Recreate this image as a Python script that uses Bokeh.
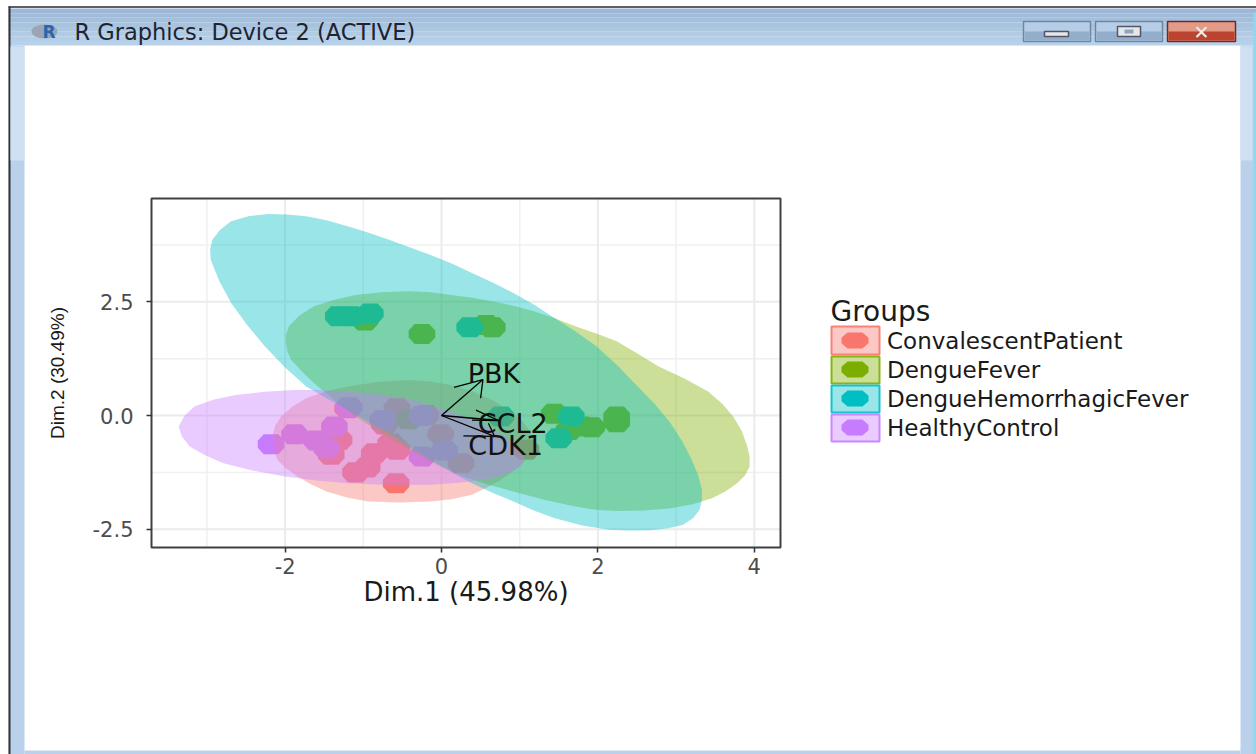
from bokeh.plotting import figure
from bokeh.models import Range1d, FixedTicker, Legend, LegendItem
from bokeh.core.properties import value
from bokeh.embed import file_html
from bokeh.resources import INLINE

groups = ["ConvalescentPatient", "DengueFever", "DengueHemorrhagicFever", "HealthyControl"]
colors = ["#F8766D", "#7CAE00", "#00BFC4", "#C77CFF"]

conv_x = [-1.31,-1.41,-0.86,-0.57,-1.10,-0.95,-0.58,-0.65,0.25,1.08,-0.01,-0.57,-0.20,-0.73,-1.20]
conv_y = [-0.54,-0.86,-0.83,-0.75,-1.25,-1.14,-1.49,-0.61,-1.05,-0.75,-0.41,0.16,0.01,-0.20,0.16]
df_x = [-0.98,-0.25,0.57,0.65,1.44,1.63,1.79,1.92,2.24,2.24,-0.42]
df_y = [2.09,1.79,1.99,1.94,0.04,-0.32,-0.24,-0.26,-0.02,-0.15,-0.08]
dhf_x = [-1.32,-1.15,-0.91,0.36,0.76,1.66,1.50]
dhf_y = [2.18,2.18,2.24,1.94,-0.02,-0.02,-0.50]
hc_x = [-2.18,-1.88,-1.60,-1.47,-1.37,-1.18,-0.75,-0.25,0.04,-0.25]
hc_y = [-0.63,-0.41,-0.55,-0.72,-0.24,0.18,-0.10,-0.01,-0.77,-0.90]

conv_ex = [-.41,-.14,.12,.40,.65,.85,1.02,1.12,1.18,1.16,1.08,.94,.76,.58,.39,.13,-.14,-.54,-.94,-1.21,-1.47,-1.67,-1.84,-1.99,-2.10,-2.15,-2.16,-2.13,-2.05,-1.91,-1.73,-1.48,-1.20,-.80]
conv_ey = [.78,.75,.67,.53,.34,.13,-.10,-.32,-.54,-.76,-.97,-1.20,-1.41,-1.58,-1.74,-1.84,-1.89,-1.91,-1.89,-1.80,-1.67,-1.51,-1.34,-1.16,-.97,-.72,-.46,-.23,-.02,.19,.38,.53,.64,.74]
df_ex = [-.41,-.14,.12,.39,.65,.92,1.18,1.45,1.71,1.98,2.24,2.50,2.77,3.10,3.41,3.59,3.73,3.84,3.91,3.94,3.94,3.88,3.78,3.63,3.46,3.21,2.93,2.59,2.24,1.97,1.71,1.31,.92,.60,.28,-.07,-.41,-.76,-1.10,-1.38,-1.63,-1.79,-1.92,-1.97,-1.99,-1.99,-1.95,-1.82,-1.63,-1.38,-1.10,-.76]
df_ey = [2.73,2.71,2.65,2.59,2.51,2.41,2.29,2.14,1.96,1.80,1.63,1.37,1.08,.82,.53,.26,-.02,-.34,-.68,-.90,-1.12,-1.32,-1.49,-1.67,-1.82,-1.95,-2.04,-2.09,-2.10,-2.07,-2.00,-1.85,-1.67,-1.52,-1.34,-1.07,-.75,-.40,-.02,.35,.71,.98,1.22,1.40,1.59,1.78,1.96,2.19,2.40,2.54,2.65,2.71]
dhf_ex = [-2.21,-1.97,-1.73,-1.47,-1.20,-.94,-.67,-.41,-.14,.13,.39,.66,.92,1.19,1.45,1.72,1.98,2.25,2.51,2.73,2.93,3.08,3.20,3.28,3.33,3.33,3.30,3.22,3.09,2.90,2.67,2.40,2.14,1.80,1.45,1.18,.92,.65,.39,.12,-.14,-.41,-.67,-.94,-1.20,-1.47,-1.73,-2.01,-2.26,-2.49,-2.69,-2.84,-2.95,-2.96,-2.93,-2.83,-2.69,-2.47]
dhf_ey = [4.43,4.42,4.38,4.29,4.16,4.02,3.86,3.70,3.53,3.34,3.13,2.92,2.69,2.43,2.14,1.84,1.52,1.10,.64,.25,-.17,-.57,-.97,-1.30,-1.63,-1.86,-2.07,-2.25,-2.40,-2.48,-2.52,-2.53,-2.51,-2.42,-2.26,-2.09,-1.89,-1.70,-1.49,-1.24,-.97,-.69,-.39,-.14,.12,.38,.64,1.07,1.52,2.00,2.47,2.95,3.42,3.65,3.86,4.08,4.27,4.38]
hc_ex = [-1.89,-1.55,-1.20,-.83,-.46,-.09,.28,.56,.81,.95,1.05,1.06,1.02,.86,.65,.26,-.14,-.67,-1.20,-1.60,-2.00,-2.42,-2.79,-3.03,-3.22,-3.32,-3.36,-3.29,-3.16,-2.91,-2.63,-2.26]
hc_ey = [.56,.56,.53,.47,.38,.20,-.02,-.23,-.46,-.64,-.83,-.98,-1.12,-1.27,-1.38,-1.47,-1.52,-1.53,-1.49,-1.43,-1.34,-1.21,-1.05,-.87,-.68,-.46,-.24,-.01,.20,.35,.45,.52]

var_names = ["PBK", "CCL2", "CDK1"]
var_x = [0.53, 0.73, 0.68]
var_y = [0.79, -0.11, -0.46]
head1_x = [0.16, 0.44, 0.28]
head1_y = [0.62, 0.12, -0.45]
head2_x = [0.50, 0.39, 0.60]
head2_y = [0.38, -0.10, -0.17]
label_x = [0.67, 0.91, 0.82]
label_y = [0.92, -0.17, -0.65]

x_major = [-2, 0, 2, 4]
x_minor = [-3, -1, 1, 3]
y_major = [-2.5, 0, 2.5]
y_minor = [-1.25, 1.25, 3.75]

W, H = 1256, 754
X0, XU, Y0, YU = 441.0, 78.2, 415.0, 45.5
L, T, R, B = 151, 198, 780, 547
xmin, xmax = (L-X0)/XU, (R-X0)/XU
ymin, ymax = (Y0-B)/YU, (Y0-T)/YU

p = figure(width=W, height=H, output_backend="svg", toolbar_location=None,
           x_range=Range1d(-X0/XU, (W-X0)/XU), y_range=Range1d((Y0-H)/YU, Y0/YU),
           min_border=0)
p.extra_x_ranges = {"page": Range1d(0, W)}
p.extra_y_ranges = {"page": Range1d(H, 0)}
PG = dict(x_range_name="page", y_range_name="page")
p.background_fill_color = "white"
p.border_fill_color = "white"
p.outline_line_color = None
p.xgrid.visible = False
p.ygrid.visible = False

def box(x0, y0, x1, y1, color, line=None, alpha=1.0, lw=1.5):
    p.quad(left=[x0], right=[x1], top=[y0], bottom=[y1], fill_color=color, fill_alpha=alpha,
           line_color=line, line_width=lw, **PG)

# window chrome
bar_cols = ["#9db8d6", "#a0bbd8", "#a4bfdb", "#a8c3de", "#adc7e1", "#b1cbe4", "#b5cee7", "#b8d1ea"]
for i, c in enumerate(bar_cols):
    box(8, 8+i*4.625, W, 8+(i+1)*4.625, c)
box(8, 5.5, W, 7.5, "#5f5f5f")
box(8, 45, 24, H, "#b9d1ea")
box(1240, 45, W, H, "#b9d1ea")
box(24, 750, 1240, H, "#b9d1ea")
box(8, 6, 10, H, "#333333")
box(10, 46, 24, 160, "#cfe0f2")
box(1240, 46, 1252, 160, "#cfe0f2")
box(1253, 12, W, H, "#8fd8ee")
for x0, x1, top, bot, edge in ((1023, 1090, "#b5cde6", "#93aecb", "#6f86a0"),
                               (1095, 1162, "#b5cde6", "#93aecb", "#6f86a0"),
                               (1167, 1235, "#e39a86", "#bb4430", "#6d2c2c")):
    box(x0, 21, x1, 41, top, line=edge)
    box(x0+1, 31, x1-1, 40, bot)
box(1044, 31, 1068, 36, "#e4e8ec", line="#555566")
box(1117, 26, 1140, 36, "#e4e8ec", line="#555566")
box(1124, 29, 1133, 33, "#8fa5bd")

# panel grid limited to the panel
p.segment(x_minor, [ymin]*4, x_minor, [ymax]*4, line_color="#f0f0f0", line_width=1.5)
p.segment([xmin]*3, y_minor, [xmax]*3, y_minor, line_color="#f0f0f0", line_width=1.5)
p.segment(x_major, [ymin]*4, x_major, [ymax]*4, line_color="#ebebeb", line_width=2)
p.segment([xmin]*3, y_major, [xmax]*3, y_major, line_color="#ebebeb", line_width=2)

xa, ya = p.xaxis[0], p.yaxis[0]
xa.ticker = FixedTicker(ticks=x_major)
ya.ticker = FixedTicker(ticks=y_major)
ya.major_label_overrides = {-2.5: "-2.5", 0: "0.0", 2.5: "2.5"}
xa.major_label_overrides = {-2: "-2", 0: "0", 2: "2", 4: "4"}
xa.fixed_location = ymin
ya.fixed_location = xmin
xa.bounds = (xmin, xmax)
ya.bounds = (ymin, ymax)
xa.axis_label = "Dim.1 (45.98%)"
ya.axis_label = "Dim.2 (30.49%)"
for ax in (xa, ya):
    ax.axis_line_color = None
    ax.major_tick_line_color = "#333333"
    ax.major_tick_line_width = 1.5
    ax.major_tick_in = 0
    ax.major_tick_out = 5
    ax.minor_tick_line_color = None
    ax.major_label_text_color = "#4d4d4d"
    ax.major_label_text_font = "DejaVu Sans"
    ax.major_label_text_font_size = "21px"
    ax.axis_label_text_font_style = "normal"
    ax.axis_label_text_color = "#1a1a1a"
xa.axis_label_text_font = "DejaVu Sans"
xa.axis_label_text_font_size = "26px"
xa.axis_label_standoff = 0
ya.axis_label_text_font = "Liberation Sans"
ya.axis_label_text_font_size = "19px"
ya.axis_label_standoff = 22
ya.major_label_standoff = 13

HW, HH = 0.17, 0.22
OCT_X = (-1, -0.55, 0.55, 1, 1, 0.55, -0.55, -1)
OCT_Y = (-0.35, -1, -1, -0.35, 0.35, 1, 1, 0.35)

def octagons(xs, ys, hw=HW, hh=HH):
    return ([[x + hw * a for a in OCT_X] for x in xs],
            [[y + hh * b for b in OCT_Y] for y in ys])

series = [(conv_x, conv_y, conv_ex, conv_ey), (df_x, df_y, df_ex, df_ey),
          (dhf_x, dhf_y, dhf_ex, dhf_ey), (hc_x, hc_y, hc_ex, hc_ey)]

for (px, py, _, _), c in zip(series, colors):
    xs, ys = octagons(px, py)
    p.patches(xs, ys, fill_color=c, line_color=None)
for (_, _, ex, ey), c in zip(series, colors):
    p.patch(ex, ey, fill_color=c, fill_alpha=0.4, line_color=None)

# panel border
p.quad(left=[xmin], right=[xmax], bottom=[ymin], top=[ymax], fill_color=None, line_color="#404040", line_width=2)

# arrows of the variables
ax_xs, ax_ys = [], []
for i in range(3):
    ax_xs += [[0, var_x[i]], [head1_x[i], var_x[i], head2_x[i]]]
    ax_ys += [[0, var_y[i]], [head1_y[i], var_y[i], head2_y[i]]]
p.multi_line(ax_xs, ax_ys, line_color="black", line_width=1.3)
p.text(label_x, label_y, text=var_names, text_font=value("DejaVu Sans"), text_font_size="27px",
       text_color="#111111", text_align="center", text_baseline="middle")

# legend: the keys' rectangles and markers are drawn at page positions, the legend carries the labels
key_top = [326, 356, 385, 414]
key_bot = [354, 383, 412, 441]
key_y = [340, 369, 398, 427]
items = []
for g, c, t, b, cy in zip(groups, colors, key_top, key_bot, key_y):
    r = p.quad(left=[831], right=[879], top=[t], bottom=[b], fill_color=c, fill_alpha=0.4,
               line_color=c, line_width=2, line_alpha=0.9, **PG)
    kx, ky = octagons([854.5], [cy], 13.5, 8)
    p.patches(kx, ky, fill_color=c, line_color=None, **PG)
    ghost = p.quad(left=[-30], right=[-20], top=[-30], bottom=[-20], fill_alpha=0, line_alpha=0, **PG)
    items.append(LegendItem(label=g, renderers=[ghost]))
leg = Legend(items=items, location=(825, H-442), orientation="vertical",
             glyph_width=60, glyph_height=29, label_height=27, spacing=0, padding=0, margin=0,
             background_fill_alpha=0, border_line_color=None,
             label_text_font="DejaVu Sans", label_text_font_size="23px", label_text_color="#1a1a1a",
             label_standoff=2)
p.add_layout(leg)

p.text([830], [311], text=["Groups"], text_font=value("DejaVu Sans"), text_font_size="28px",
       text_color="#1a1a1a", text_baseline="middle", **PG)

p.text([74], [31], text=["R Graphics: Device 2 (ACTIVE)"], text_font=value("DejaVu Sans"), text_font_size="22.5px",
       text_color="#1c2430", text_baseline="middle", **PG)
p.ellipse([44], [31], width=26, height=14, fill_color="#9aa6b4", line_color=None, **PG)
p.text([42], [31], text=["R"], text_font=value("DejaVu Sans"), text_font_size="17px", text_font_style="bold",
       text_color="#2a66b0", text_baseline="middle", **PG)
p.text([1201], [31], text=["\u2715"], text_font=value("DejaVu Sans"), text_font_size="19px", text_font_style="bold",
       text_color="#f0eeee", text_align="center", text_baseline="middle", **PG)

open("out.html", "w").write(file_html(p, INLINE))
